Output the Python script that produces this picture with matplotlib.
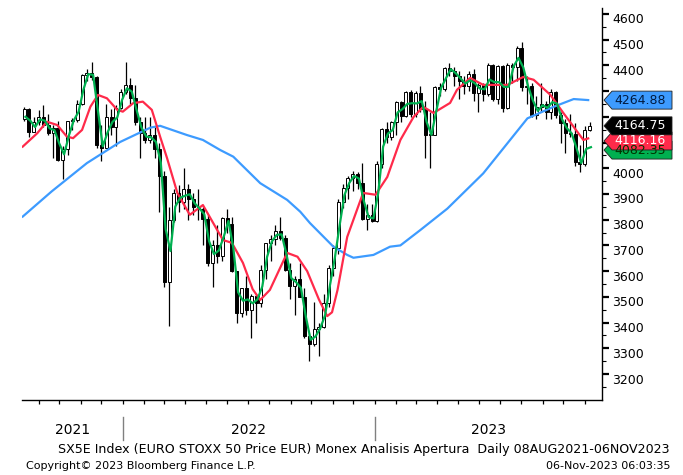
import numpy as np
import pandas as pd
import matplotlib
matplotlib.use('Agg')
import matplotlib.pyplot as plt
import matplotlib.dates as mdates
import matplotlib.transforms as mtransforms
from matplotlib.patches import Polygon

# weekly bars (Monday of each week)
weeks = pd.date_range('2021-08-09', periods=118, freq='W-MON')

opens = [4190, 4229, 4141, 4180, 4200, 4170, 4138, 4158, 4034, 4073,
         4183, 4189, 4250, 4363, 4370, 4356, 4090, 4080, 4199, 4162,
         4235, 4298, 4324, 4272, 4180, 4136, 4110, 4130, 4075, 3971,
         3556, 3800, 3903, 3868, 3918, 3880, 3848, 3840, 3802, 3630,
         3703, 3657, 3808, 3783, 3599, 3438, 3533, 3448, 3502, 3477,
         3604, 3708, 3725, 3757, 3730, 3603, 3544, 3570, 3500, 3348,
         3318, 3375, 3381, 3477, 3613, 3688, 3868, 3924, 3962, 3977,
         3942, 3804, 3817, 3794, 4017, 4151, 4120, 4178, 4257, 4203,
         4296, 4210, 4294, 4229, 4130, 4130, 4315, 4310, 4391, 4380,
         4359, 4340, 4318, 4367, 4294, 4325, 4290, 4400, 4270, 4399,
         4234, 4400, 4392, 4466, 4317, 4320, 4207, 4240, 4250, 4220,
         4295, 4208, 4175, 4138, 4134, 4024, 4015, 4150]
highs = [4240, 4235, 4200, 4225, 4247, 4210, 4170, 4185, 4085, 4185,
         4195, 4265, 4365, 4385, 4415, 4360, 4170, 4250, 4230, 4245,
         4310, 4415, 4350, 4325, 4200, 4200, 4200, 4160, 4100, 3990,
         3850, 3920, 3935, 4000, 3940, 3905, 3920, 3850, 3820, 3720,
         3780, 3810, 3840, 3810, 3600, 3535, 3580, 3510, 3510, 3625,
         3710, 3740, 3780, 3810, 3740, 3630, 3580, 3630, 3535, 3360,
         3480, 3400, 3510, 3625, 3700, 3880, 3940, 3970, 3990, 3985,
         4020, 3860, 3860, 4030, 4155, 4180, 4185, 4260, 4260, 4300,
         4305, 4300, 4320, 4260, 4220, 4320, 4330, 4395, 4410, 4395,
         4380, 4360, 4380, 4385, 4330, 4330, 4410, 4405, 4400, 4400,
         4410, 4410, 4475, 4490, 4360, 4330, 4280, 4330, 4260, 4310,
         4300, 4220, 4190, 4210, 4175, 4090, 4165, 4180]
lows = [4185, 4120, 4140, 4170, 4160, 4130, 4040, 4030, 3960, 4050,
        4150, 4180, 4245, 4340, 4345, 4080, 4030, 4080, 4130, 4085,
        4230, 4290, 4250, 4170, 4040, 4100, 4100, 4040, 3830, 3540,
        3387, 3790, 3830, 3840, 3800, 3820, 3800, 3700, 3620, 3540,
        3630, 3640, 3750, 3595, 3400, 3420, 3430, 3340, 3400, 3460,
        3570, 3640, 3700, 3720, 3600, 3490, 3430, 3500, 3340, 3250,
        3310, 3270, 3380, 3460, 3580, 3665, 3845, 3880, 3910, 3920,
        3800, 3760, 3790, 3790, 4000, 4100, 4110, 4130, 4180, 4200,
        4200, 4200, 4220, 4040, 4000, 4130, 4280, 4300, 4360, 4320,
        4270, 4290, 4300, 4260, 4220, 4260, 4280, 4260, 4250, 4220,
        4230, 4330, 4340, 4300, 4250, 4200, 4190, 4220, 4190, 4190,
        4195, 4100, 4060, 4120, 4010, 3985, 4010, 4145]
closes = [4229, 4141, 4180, 4200, 4170, 4138, 4158, 4034, 4073, 4183,
          4189, 4250, 4363, 4370, 4356, 4090, 4080, 4199, 4162, 4235,
          4298, 4324, 4272, 4180, 4136, 4110, 4130, 4075, 3971, 3556,
          3800, 3903, 3868, 3918, 3880, 3848, 3840, 3802, 3630, 3703,
          3657, 3808, 3783, 3599, 3438, 3533, 3448, 3502, 3477, 3604,
          3708, 3725, 3757, 3730, 3603, 3544, 3570, 3500, 3348, 3318,
          3375, 3381, 3477, 3613, 3688, 3868, 3924, 3962, 3977, 3942,
          3804, 3817, 3794, 4017, 4151, 4120, 4178, 4257, 4203, 4296,
          4210, 4294, 4229, 4130, 4130, 4315, 4310, 4391, 4380, 4359,
          4340, 4318, 4367, 4294, 4325, 4290, 4400, 4270, 4399, 4234,
          4400, 4392, 4466, 4317, 4320, 4207, 4240, 4250, 4220, 4295,
          4208, 4175, 4138, 4134, 4024, 4015, 4150, 4165]

# short moving average (green), one value per week
green = [4200, 4185, 4160, 4190, 4185, 4155, 4148, 4096, 4054, 4128,
         4186, 4220, 4306, 4366, 4363, 4223, 4085, 4140, 4180, 4198,
         4266, 4311, 4298, 4226, 4158, 4123, 4120, 4102, 4023, 3764,
         3678, 3851, 3885, 3893, 3899, 3864, 3844, 3821, 3716, 3666,
         3680, 3732, 3795, 3691, 3518, 3485, 3490, 3475, 3490, 3540,
         3656, 3716, 3741, 3743, 3666, 3573, 3557, 3535, 3424, 3333,
         3346, 3378, 3429, 3545, 3650, 3778, 3896, 3943, 3970, 3960,
         3873, 3810, 3805, 3905, 4084, 4135, 4149, 4217, 4230, 4250,
         4253, 4252, 4261, 4180, 4130, 4222, 4312, 4350, 4385, 4370,
         4350, 4329, 4342, 4330, 4310, 4307, 4345, 4335, 4335, 4316,
         4317, 4396, 4429, 4392, 4318, 4263, 4223, 4245, 4235, 4257,
         4251, 4191, 4156, 4136, 4079, 4020, 4075, 4082]

# medium moving average (red)
red_dates = ['2021-08-09', '2021-08-30', '2021-09-13', '2021-09-28', '2021-10-12',
             '2021-10-21', '2021-11-03', '2021-11-15', '2021-11-26', '2021-12-09',
             '2021-12-24', '2022-01-01', '2022-01-16', '2022-01-30', '2022-02-12',
             '2022-02-24', '2022-03-06', '2022-03-21', '2022-04-08', '2022-04-27',
             '2022-05-26', '2022-06-08', '2022-06-24', '2022-07-08', '2022-07-19',
             '2022-08-02', '2022-08-27', '2022-09-11', '2022-09-25', '2022-10-12',
             '2022-10-24', '2022-10-31', '2022-11-08', '2022-11-22', '2022-12-15',
             '2023-01-02', '2023-01-19', '2023-02-07', '2023-02-26', '2023-03-12',
             '2023-03-27', '2023-04-20', '2023-04-30', '2023-05-19', '2023-06-07',
             '2023-07-12', '2023-08-04', '2023-08-19', '2023-09-12', '2023-10-01',
             '2023-10-30', '2023-11-06']
red_vals = [4084, 4136, 4181, 4168, 4123, 4117, 4149, 4239, 4285, 4272,
            4227, 4220, 4253, 4259, 4227, 4123, 4040, 3904, 3819, 3857,
            3721, 3710, 3632, 3530, 3488, 3527, 3671, 3656, 3600, 3490,
            3425, 3440, 3527, 3733, 3904, 3897, 3966, 4110, 4199, 4239,
            4215, 4254, 4305, 4351, 4324, 4324, 4355, 4344, 4286, 4215,
            4110, 4116]

# long moving average (blue)
blue_dates = ['2021-08-09', '2021-09-20', '2021-11-10', '2021-12-28', '2022-02-10',
              '2022-02-24', '2022-04-04', '2022-04-27', '2022-05-22', '2022-06-10',
              '2022-07-19', '2022-08-27', '2022-09-15', '2022-09-29', '2022-11-02',
              '2022-11-22', '2022-12-01', '2022-12-30', '2023-01-23', '2023-02-07',
              '2023-03-08', '2023-04-16', '2023-06-07', '2023-07-12', '2023-08-10',
              '2023-09-17', '2023-10-16', '2023-11-06']
blue_vals = [3812, 3910, 4020, 4102, 4158, 4165, 4129, 4110, 4071, 4045,
             3942, 3877, 3831, 3787, 3695, 3663, 3652, 3663, 3695, 3700,
             3760, 3843, 3980, 4097, 4194, 4239, 4269, 4265]

# last-value tags on the right axis
tag_values = [4082.35, 4116.16, 4264.88, 4164.75]
tag_colors = ['#00b050', '#ff2a4a', '#3d9bff', '#000000']
tag_text_colors = ['#003300', 'white', '#001a40', 'white']
tag_shift = [3, 2.6, 0, 0]  # px pushed down to avoid overlap

year_labels = ['2021', '2022', '2023']
yticks = list(range(3200, 4601, 100))

BLUE = '#3d9bff'
RED = '#ff2a4a'
GREEN = '#00b050'

fig = plt.figure(figsize=(6.83, 4.75), dpi=100)
ax = fig.add_axes([22 / 683, 75 / 475, 580 / 683, 392 / 475])

x0 = mdates.date2num(pd.Timestamp('2021-08-08'))
x1 = mdates.date2num(pd.Timestamp('2023-11-26'))
ax.set_xlim(x0, x1)
ax.set_ylim(3099, 4623)

# candles
xc = mdates.date2num(weeks) + 2
o, h, l, c = (np.array(a, dtype=float) for a in (opens, highs, lows, closes))
up = c >= o
lo_body = np.minimum(o, c)
h_body = np.maximum(np.abs(c - o), 4)
ax.vlines(xc, l, h, color='black', lw=0.9, zorder=2)
ax.bar(xc[up], h_body[up], bottom=lo_body[up], width=4.2,
       facecolor='white', edgecolor='black', lw=0.7, zorder=3)
ax.bar(xc[~up], h_body[~up], bottom=lo_body[~up], width=4.2,
       facecolor='black', edgecolor='black', lw=0.7, zorder=3)

# moving averages
ax.plot(pd.to_datetime(blue_dates), blue_vals, color=BLUE, lw=1.6, zorder=4,
        solid_joinstyle='round')
ax.plot(pd.to_datetime(red_dates), red_vals, color=RED, lw=1.6, zorder=5,
        solid_joinstyle='round')
ax.plot(mdates.date2num(weeks) + 4, green, color=GREEN, lw=1.6, zorder=6,
        solid_joinstyle='round')

# axes styling
for s in ['left', 'top']:
    ax.spines[s].set_visible(False)
for s in ['bottom', 'right']:
    ax.spines[s].set_linewidth(1.0)
ax.yaxis.tick_right()
ax.set_yticks(yticks)
ax.set_yticks(list(range(3150, 4601, 100)), minor=True)
ax.tick_params(axis='y', which='major', direction='out', length=5, width=1.6,
               labelright=False, labelleft=False)
ax.tick_params(axis='y', which='minor', direction='out', length=3, width=0.8)
ax.xaxis.set_major_locator(mdates.MonthLocator())
ax.tick_params(axis='x', which='major', direction='out', length=3, width=0.9,
               labelbottom=False)

ylab_tr = mtransforms.offset_copy(ax.get_yaxis_transform(), fig=fig, x=10, y=-6, units='dots')
for v in yticks:
    ax.text(1.0, v, str(v), transform=ylab_tr, ha='left', va='center',
            fontsize=9, clip_on=False)

# year labels and separators
bounds = [x0, mdates.date2num(pd.Timestamp('2022-01-01')),
          mdates.date2num(pd.Timestamp('2023-01-01')), x1]
xtr = ax.get_xaxis_transform()
for i, lab in enumerate(year_labels):
    ax.text((bounds[i] + bounds[i + 1]) / 2, -0.077, lab, transform=xtr,
            ha='center', va='center', fontsize=10)
for b in bounds[1:3]:
    ax.plot([b, b], [-0.043, -0.102], transform=xtr, clip_on=False,
            color='#808080', lw=1)

# value tags
ident = mtransforms.IdentityTransform()
ytr = ax.get_yaxis_transform()
for v, fc, tc, s in zip(tag_values, tag_colors, tag_text_colors, tag_shift):
    xd, yd = ytr.transform((1.0, v))
    yd -= s
    verts = [(xd + 2, yd), (xd + 10, yd + 9), (xd + 70, yd + 9),
             (xd + 70, yd - 9), (xd + 10, yd - 9)]
    fig.add_artist(Polygon(verts, closed=True, facecolor=fc, edgecolor='#202020',
                           lw=0.6, transform=ident))
    fig.text(xd + 12, yd, f'{v:.2f}', transform=ident, ha='left', va='center',
             fontsize=9, color=tc)

# footer
fig.text(670 / 683, 1 - 450 / 475,
         'SX5E Index (EURO STOXX 50 Price EUR) Monex Analisis Apertura  Daily 08AUG2021-06NOV2023',
         ha='right', va='center', fontsize=9.1)
fig.text(26 / 683, 1 - 466 / 475, 'Copyright© 2023 Bloomberg Finance L.P.',
         ha='left', va='center', fontsize=8)
fig.text(670 / 683, 1 - 466 / 475, '06-Nov-2023 06:03:35',
         ha='right', va='center', fontsize=8)

fig.savefig('out.png', dpi=100)
